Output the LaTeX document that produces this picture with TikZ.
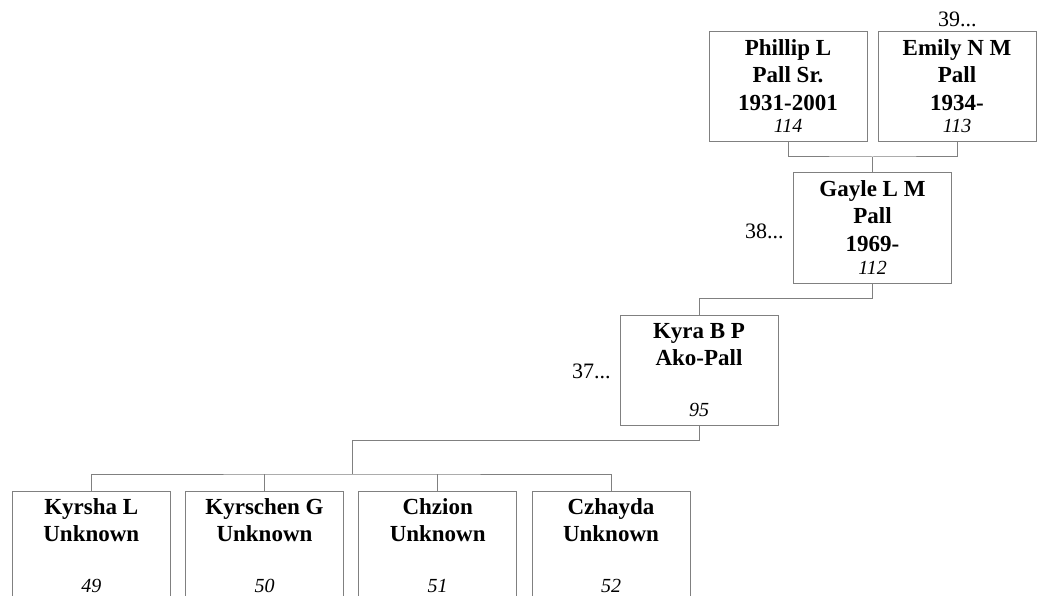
\documentclass[tikz,border=0pt]{standalone}
\usepackage{fontspec}
\setmainfont{Liberation Serif}
\definecolor{linegray}{RGB}{128,128,128}
\tikzset{
  pbox/.style={draw=linegray, line width=1pt, minimum width=158pt, minimum height=110pt, inner sep=0pt, outer sep=0pt, fill=none},
  boldline/.style={font=\fontsize{23}{27}\selectfont\bfseries, inner sep=0pt, anchor=base, text=black},
  numline/.style={font=\fontsize{20}{24}\selectfont\itshape, inner sep=0pt, anchor=base, text=black},
  genlabel/.style={font=\fontsize{22}{26}\selectfont, inner sep=0pt, anchor=base west, text=black},
  conn/.style={draw=linegray, line width=1pt}
}
\newcommand\personthree[7]{%
  \node[pbox] (#1) at (#2,#3+55) {};
  \node[boldline] (#1-a) at (#2,#3+23.5) {#4};
  \node[boldline] (#1-b) at (#2,#3+50.5) {#5};
  \node[boldline] (#1-c) at (#2,#3+78.5) {#6};
  \node[numline] (#1-n) at (#2,#3+101) {#7};
}
\newcommand\persontwo[6]{%
  \node[pbox] (#1) at (#2,#3+55) {};
  \node[boldline] (#1-a) at (#2,#3+23.5) {#4};
  \node[boldline] (#1-b) at (#2,#3+50.5) {#5};
  \node[numline] (#1-n) at (#2,#3+101) {#6};
}
\begin{document}
\begin{tikzpicture}[x=1pt,y=-1pt]
\useasboundingbox (0,0) rectangle (1041,596);
% generation 1
\personthree{phillip}{788}{32}{Phillip L}{Pall Sr.}{1931-2001}{114}
\personthree{emily}{957}{32}{Emily N M}{Pall}{1934-}{113}
% generation 2
\personthree{gayle}{872.5}{173}{Gayle L M}{Pall}{1969-}{112}
% generation 3
\persontwo{kyra}{699}{315}{Kyra B P}{Ako-Pall}{95}
% children
\persontwo{kyrsha}{91.3}{491}{Kyrsha L}{Unknown}{49}
\persontwo{kyrschen}{264.5}{491}{Kyrschen G}{Unknown}{50}
\persontwo{chzion}{437.7}{491}{Chzion}{Unknown}{51}
\persontwo{czhayda}{611}{491}{Czhayda}{Unknown}{52}
% generation labels
\node[genlabel] (g39) at (938,27) {39...};
\node[genlabel] (g38) at (745,238) {38...};
\node[genlabel] (g37) at (572,378) {37...};
% connectors
\coordinate (pj) at (872.5,157);
\draw[conn] (phillip.south) |- (pj) -| (emily.south);
\draw[conn] (pj) -- (gayle.north);
\coordinate (gj) at (872.5,298);
\draw[conn] (gayle.south) -- (gj) -| (kyra.north);
\coordinate (kj) at (352.5,440);
\coordinate (cj) at (352.5,474);
\draw[conn] (kyra.south) |- (kj) -- (cj);
\draw[conn] (kyrsha.north) |- (cj) -| (czhayda.north);
\draw[conn] (kyrschen.north) -- (kyrschen.north |- cj);
\draw[conn] (chzion.north) -- (chzion.north |- cj);
\end{tikzpicture}
\end{document}
